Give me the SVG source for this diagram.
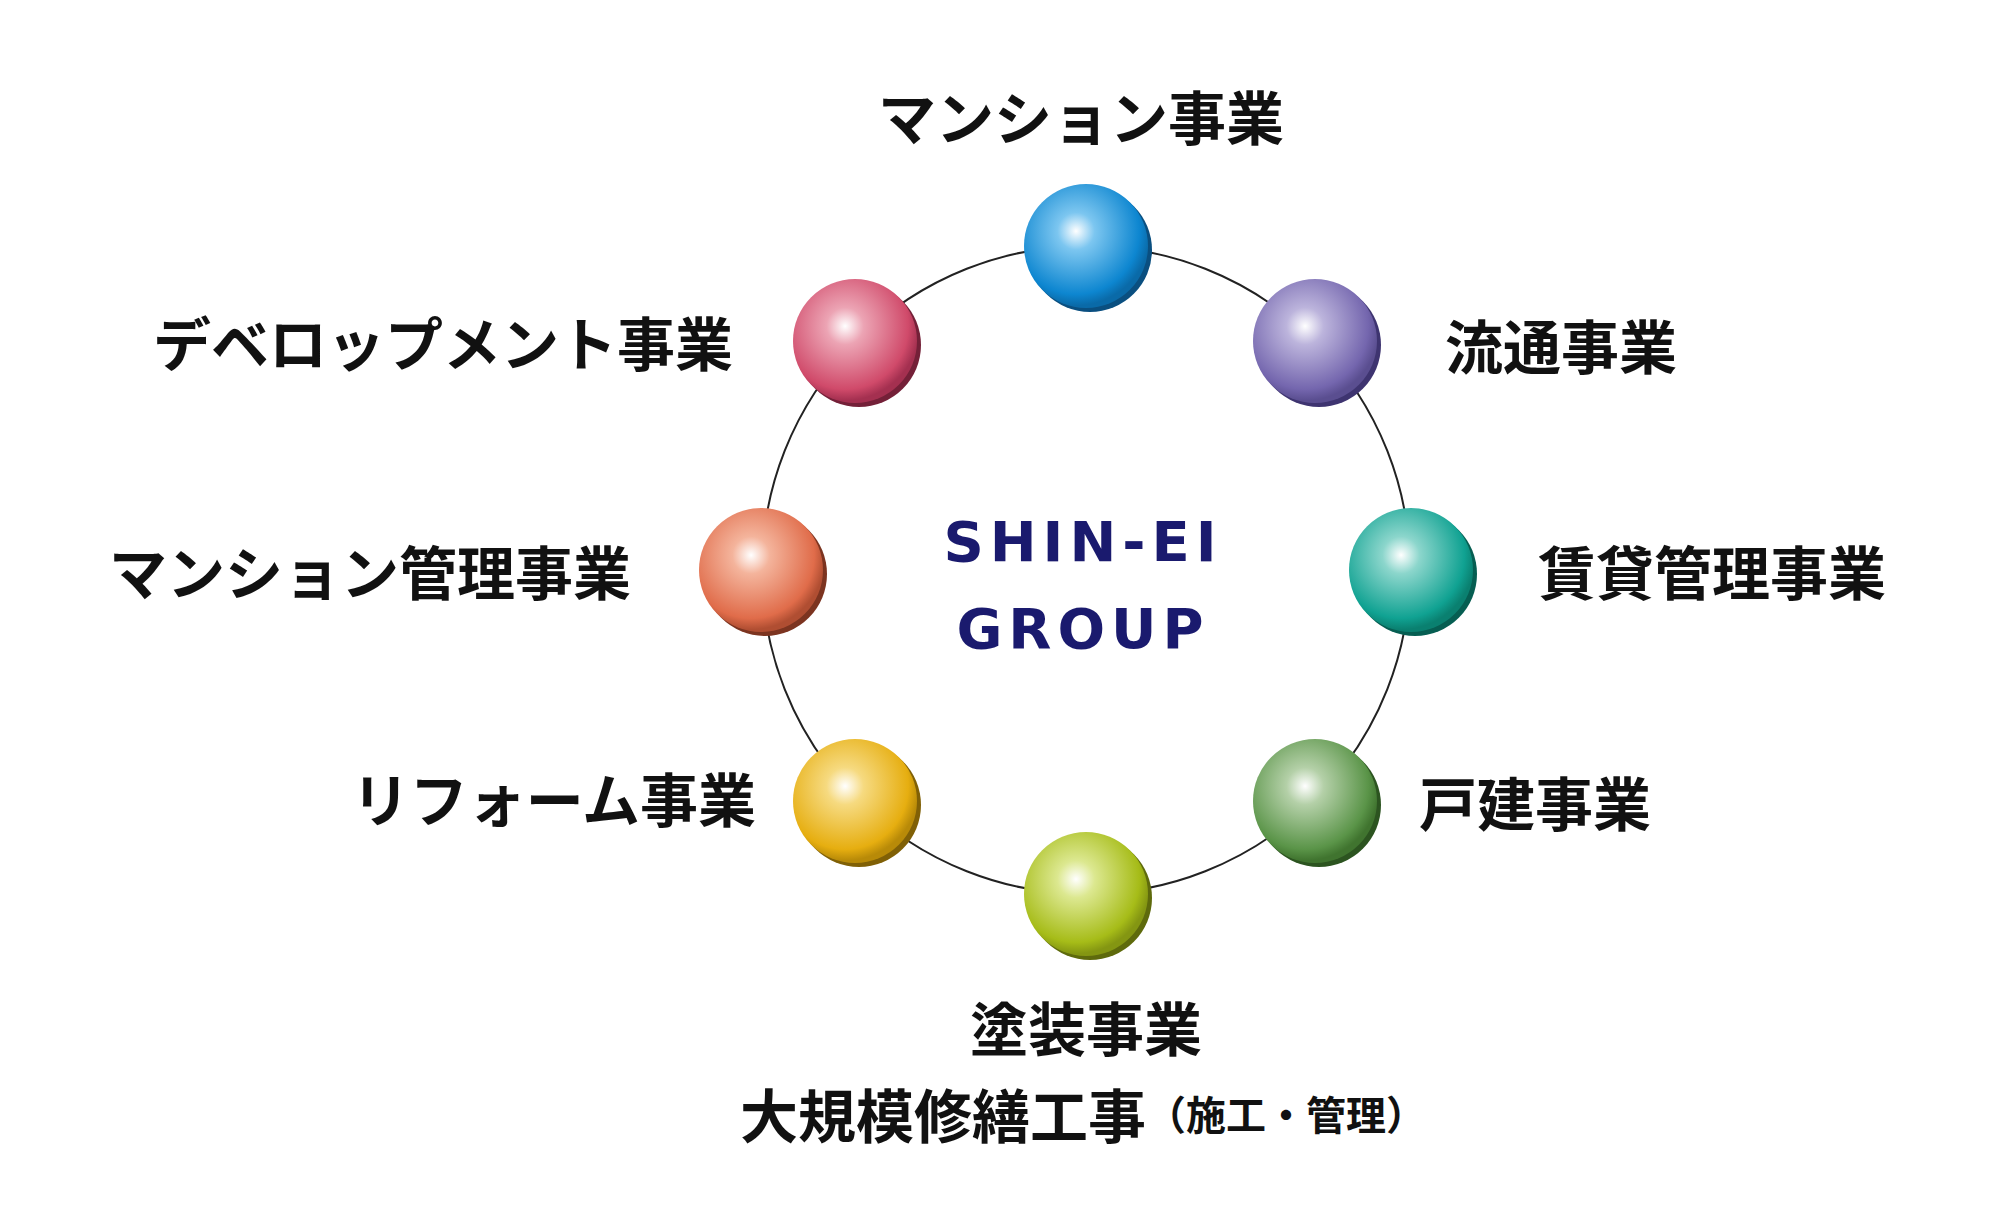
<svg xmlns="http://www.w3.org/2000/svg" width="2000" height="1222" viewBox="0 0 2000 1222">
<defs>
<style>
.lb{font-family:"Noto Sans CJK JP","Noto Sans",sans-serif;font-weight:bold;font-size:58px;fill:#111;dominant-baseline:central}
.ct{font-family:"DejaVu Sans","Liberation Sans",sans-serif;font-weight:bold;font-size:56px;fill:#1a1a6e;letter-spacing:6px;text-anchor:middle;dominant-baseline:central}
</style>
<radialGradient id="g1" cx="0.42" cy="0.38" r="0.6"><stop offset="0" stop-color="#fff"/><stop offset="0.25" stop-color="#7cc6f0"/><stop offset="0.85" stop-color="#0d86d0"/><stop offset="1" stop-color="#0a6aa8"/></radialGradient>
<radialGradient id="g2" cx="0.42" cy="0.38" r="0.6"><stop offset="0" stop-color="#fff"/><stop offset="0.25" stop-color="#bcb4dc"/><stop offset="0.85" stop-color="#7466ae"/><stop offset="1" stop-color="#5a4e90"/></radialGradient>
<radialGradient id="g3" cx="0.42" cy="0.38" r="0.6"><stop offset="0" stop-color="#fff"/><stop offset="0.25" stop-color="#8cd6cc"/><stop offset="0.85" stop-color="#10a292"/><stop offset="1" stop-color="#0a8070"/></radialGradient>
<radialGradient id="g4" cx="0.42" cy="0.38" r="0.6"><stop offset="0" stop-color="#fff"/><stop offset="0.25" stop-color="#b4d0a8"/><stop offset="0.85" stop-color="#5a9448"/><stop offset="1" stop-color="#40742f"/></radialGradient>
<radialGradient id="g5" cx="0.42" cy="0.38" r="0.6"><stop offset="0" stop-color="#fff"/><stop offset="0.25" stop-color="#dce890"/><stop offset="0.85" stop-color="#a6bc18"/><stop offset="1" stop-color="#849612"/></radialGradient>
<radialGradient id="g6" cx="0.42" cy="0.38" r="0.6"><stop offset="0" stop-color="#fff"/><stop offset="0.25" stop-color="#f6da80"/><stop offset="0.85" stop-color="#e6ae10"/><stop offset="1" stop-color="#b88a08"/></radialGradient>
<radialGradient id="g7" cx="0.42" cy="0.38" r="0.6"><stop offset="0" stop-color="#fff"/><stop offset="0.25" stop-color="#f4b49c"/><stop offset="0.85" stop-color="#e06c4a"/><stop offset="1" stop-color="#b04e32"/></radialGradient>
<radialGradient id="g8" cx="0.42" cy="0.38" r="0.6"><stop offset="0" stop-color="#fff"/><stop offset="0.25" stop-color="#eca4b4"/><stop offset="0.85" stop-color="#d04a6a"/><stop offset="1" stop-color="#a43050"/></radialGradient>
</defs>
<rect width="2000" height="1222" fill="#fff"/>
<g id="connectors"><circle cx="1086" cy="570" r="324" fill="none" stroke="#222" stroke-width="2"/></g>
<g id="n1"><circle cx="1090" cy="250" r="62" fill="#0a4f80"/><circle cx="1086" cy="246" r="62" fill="url(#g1)"/><text class="lb" x="1081" y="115" text-anchor="middle">マンション事業</text></g>
<g id="n2"><circle cx="1319" cy="345" r="62" fill="#3e3470"/><circle cx="1315" cy="341" r="62" fill="url(#g2)"/><text class="lb" x="1445" y="344">流通事業</text></g>
<g id="n3"><circle cx="1415" cy="574" r="62" fill="#065e52"/><circle cx="1411" cy="570" r="62" fill="url(#g3)"/><text class="lb" x="1538" y="570">賃貸管理事業</text></g>
<g id="n4"><circle cx="1319" cy="805" r="62" fill="#2c5420"/><circle cx="1315" cy="801" r="62" fill="url(#g4)"/><text class="lb" x="1419" y="801">戸建事業</text></g>
<g id="n5"><circle cx="1090" cy="898" r="62" fill="#5e6a0c"/><circle cx="1086" cy="894" r="62" fill="url(#g5)"/><text class="lb" x="1086" y="1026" text-anchor="middle">塗装事業</text><text class="lb" x="1083" y="1113" text-anchor="middle">大規模修繕工事<tspan font-size="40px">（施工・管理）</tspan></text></g>
<g id="n6"><circle cx="859" cy="805" r="62" fill="#806006"/><circle cx="855" cy="801" r="62" fill="url(#g6)"/><text class="lb" x="756" y="797" text-anchor="end">リフォーム事業</text></g>
<g id="n7"><circle cx="765" cy="574" r="62" fill="#7c3420"/><circle cx="761" cy="570" r="62" fill="url(#g7)"/><text class="lb" x="631" y="570" text-anchor="end">マンション管理事業</text></g>
<g id="n8"><circle cx="859" cy="345" r="62" fill="#742038"/><circle cx="855" cy="341" r="62" fill="url(#g8)"/><text class="lb" x="733" y="341" text-anchor="end">デベロップメント事業</text></g>
<g id="center"><text class="ct" x="1083" y="541">SHIN-EI</text><text class="ct" x="1083" y="628">GROUP</text></g>
</svg>
